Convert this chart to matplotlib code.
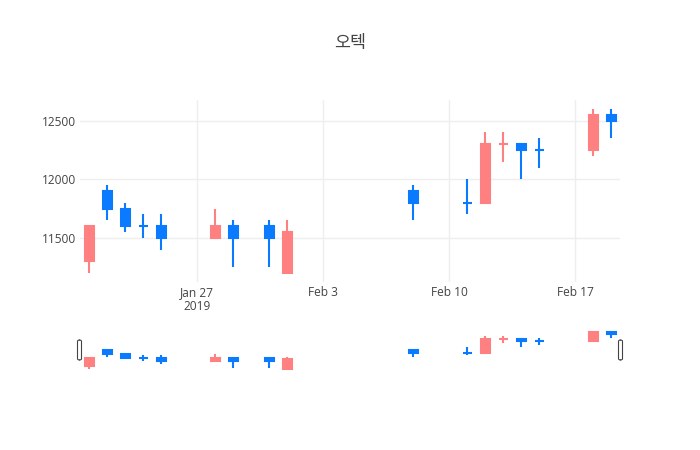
import matplotlib
matplotlib.use("Agg")
import matplotlib.pyplot as plt
import matplotlib.dates as mdates
from matplotlib.patches import FancyBboxPatch
import numpy as np
import pandas as pd

# data
dates = ["2019-01-21", "2019-01-22", "2019-01-23", "2019-01-24", "2019-01-25",
         "2019-01-28", "2019-01-29", "2019-01-31", "2019-02-01",
         "2019-02-08", "2019-02-11", "2019-02-12", "2019-02-13", "2019-02-14",
         "2019-02-15", "2019-02-18", "2019-02-19"]
open_ = [11300, 11900, 11750, 11600, 11600, 11500, 11600, 11600, 11200,
         11900, 11800, 11800, 12300, 12300, 12250, 12250, 12550]
high = [11600, 11950, 11800, 11700, 11700, 11750, 11650, 11650, 11650,
        11950, 12000, 12400, 12400, 12300, 12350, 12600, 12600]
low = [11200, 11650, 11550, 11500, 11400, 11500, 11250, 11250, 11200,
       11650, 11700, 11800, 12150, 12000, 12100, 12200, 12350]
close = [11600, 11750, 11600, 11600, 11500, 11600, 11500, 11500, 11550,
         11800, 11800, 12300, 12300, 12250, 12250, 12550, 12500]

tick_dates = ["2019-01-27", "2019-02-03", "2019-02-10", "2019-02-17"]
tick_labels = ["Jan 27\n2019", "Feb 3", "Feb 10", "Feb 17"]
title = "오텍"

up_color = "#FF8080"
down_color = "#0A7BFF"

x = mdates.date2num(pd.to_datetime(dates))
o = np.array(open_, float)
h = np.array(high, float)
l = np.array(low, float)
c = np.array(close, float)

# plotly rule: equal open/close keeps direction unless close moved vs previous close
inc = []
state = True
prev = None
for oi, ci in zip(o, c):
    if ci == oi:
        if prev is not None and ci != prev:
            state = ci > prev
    else:
        state = ci > oi
    prev = ci
    inc.append(state)
colors = [up_color if s else down_color for s in inc]

xmin = x[0] - 0.5
xmax = x[-1] + 0.5

fig = plt.figure(figsize=(7, 4.5), dpi=100)
ax = fig.add_axes([80 / 700, 1 - 282 / 450, 540 / 700, 182 / 450])
sl = fig.add_axes([80 / 700, 1 - 371 / 450, 540 / 700, 42 / 450])


def candles(a, lw):
    a.vlines(x, l, h, colors=colors, linewidth=lw, zorder=3)
    a.bar(x, c - o, bottom=o, width=0.5, color=colors, edgecolor=colors,
          linewidth=lw, zorder=4)


candles(ax, 1.5)
candles(sl, 1.5)

ax.set_xlim(xmin, xmax)
ax.set_ylim(11125, 12675)
ax.set_yticks([11500, 12000, 12500])
ax.set_xticks(mdates.date2num(pd.to_datetime(tick_dates)))
ax.set_xticklabels(tick_labels)
ax.grid(True, color="#eeeeee", linewidth=1, zorder=0)
ax.set_axisbelow(True)
for s in ax.spines.values():
    s.set_visible(False)
ax.tick_params(length=0, labelsize=8.6, labelcolor="#444444", pad=3)
for t in ax.get_xticklabels() + ax.get_yticklabels():
    t.set_family("Open Sans")
for t in ax.get_xticklabels():
    t.set_linespacing(1.1)

sl.set_xlim(xmin, xmax)
sl.set_ylim(11125, 12675)
sl.set_xticks([])
sl.set_yticks([])
for s in sl.spines.values():
    s.set_visible(False)

# range slider handles
for hx in (79.5, 620.5):
    fig.patches.append(FancyBboxPatch(((hx - 2) / 700, 1 - 360 / 450), 4 / 700, 20 / 450,
                                      boxstyle="round,pad=0,rounding_size=0.003",
                                      transform=fig.transFigure, facecolor="white",
                                      edgecolor="#444444", linewidth=0.8, zorder=10))

fig.text(0.5, 1 - 43 / 450, title, ha="center", va="center", fontsize=12.5,
         color="#444444", family=["Noto Sans CJK KR", "DejaVu Sans"])

fig.savefig("out.png", dpi=100, facecolor="white")
